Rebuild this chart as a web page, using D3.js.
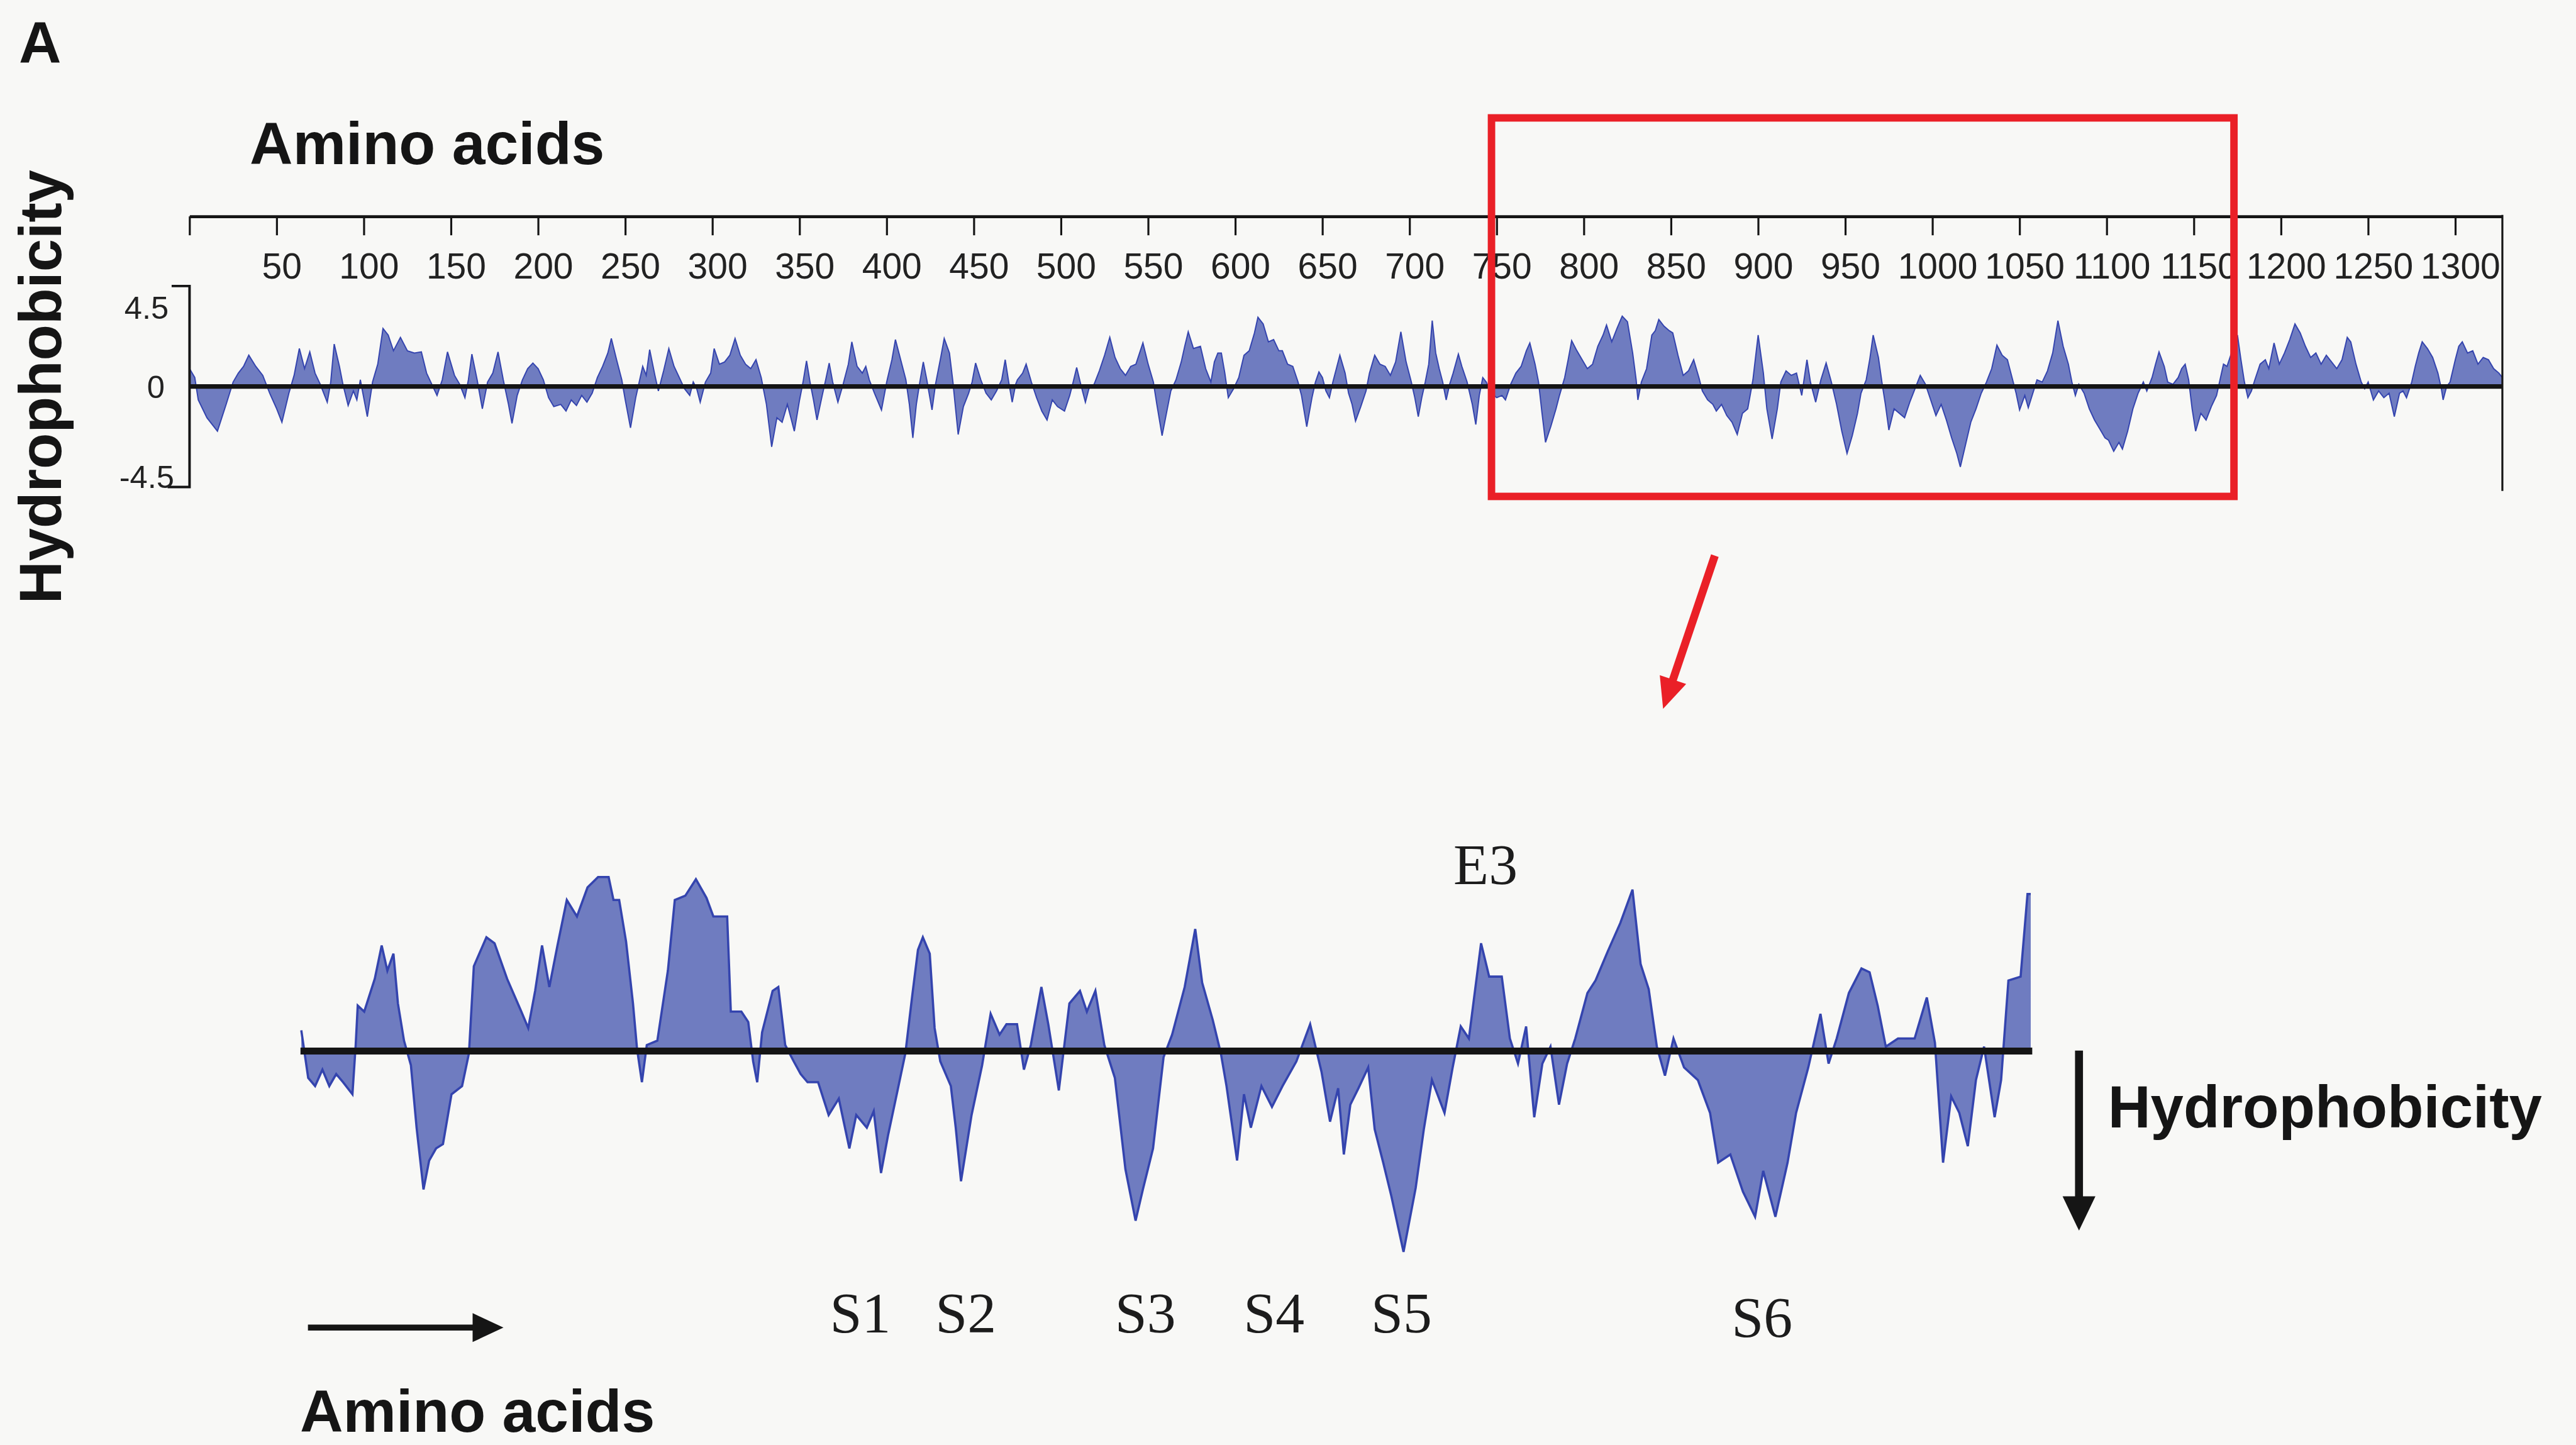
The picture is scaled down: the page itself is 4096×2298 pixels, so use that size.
<!DOCTYPE html>
<html>
<head>
<meta charset="utf-8">
<script src="https://cdn.jsdelivr.net/npm/d3@7"></script>
<style>
  html, body { margin: 0; padding: 0; background: #f8f8f6; }
  svg { display: block; }
  .sans { font-family: "Liberation Sans", Arial, Helvetica, sans-serif; }
  .serif { font-family: "Liberation Serif", "Times New Roman", serif; }
</style>
</head>
<body>
<svg id="fig"></svg>
<script>
// hydropathy profile of the whole protein, [residue, score]
const fullProfile = [
  [0,0.8],[3,0.4],[5,-0.6],[10,-1.4],[16,-2.0],[21,-0.8],[25,0.2],[28,0.6],[31,0.9],[34,1.4],[38,0.9],[42,0.5],
  [46,-0.3],[50,-1.0],[53,-1.6],[57,-0.3],[60,0.5],[63,1.7],[66,0.8],[69,1.55],[72,0.6],[75,0.1],[79,-0.7],[81,0.2],
  [83,1.9],[86,0.9],[88,0.1],[91,-0.85],[94,-0.2],[96,-0.6],[98,0.3],[102,-1.35],[105,0.2],[108,1.0],[111,2.6],[114,2.3],
  [117,1.6],[121,2.2],[125,1.6],[129,1.5],[133,1.55],[136,0.6],[139,0.1],[142,-0.4],[145,0.3],[148,1.55],[152,0.5],[155,0.1],
  [158,-0.5],[160,0.3],[162,1.45],[165,0.3],[168,-1.0],[171,0.2],[174,0.6],[177,1.55],[180,0.3],[183,-0.8],[185,-1.65],[188,-0.4],
  [191,0.3],[194,0.8],[197,1.05],[200,0.8],[203,0.3],[206,-0.5],[209,-0.9],[213,-0.8],[216,-1.1],[219,-0.6],[222,-0.85],[225,-0.4],
  [228,-0.7],[231,-0.3],[234,0.4],[237,0.9],[240,1.5],[242,2.15],[245,1.2],[248,0.3],[250,-0.6],[253,-1.85],[256,-0.5],[258,0.2],
  [260,0.9],[262,0.5],[264,1.65],[267,0.5],[269,-0.2],[272,0.7],[275,1.7],[278,0.9],[281,0.4],[284,-0.1],[287,-0.4],[289,0.2],
  [291,-0.1],[293,-0.7],[296,0.2],[299,0.6],[301,1.7],[304,1.0],[307,1.1],[310,1.4],[313,2.15],[316,1.4],[319,1.0],[322,0.8],
  [325,1.2],[328,0.4],[331,-0.8],[334,-2.7],[337,-1.4],[340,-1.6],[343,-0.8],[345,-1.4],[347,-2.0],[350,-0.6],[352,0.2],[354,1.15],
  [356,0.2],[358,-0.6],[360,-1.5],[363,-0.4],[365,0.3],[367,1.05],[369,0.2],[372,-0.7],[375,0.1],[378,1.0],[380,2.0],[383,0.9],
  [386,0.6],[388,0.9],[390,0.3],[393,-0.3],[397,-1.05],[400,0.2],[403,1.2],[405,2.1],[408,1.2],[411,0.3],[413,-0.8],[415,-2.3],
  [417,-0.8],[419,0.2],[421,1.1],[423,0.3],[426,-1.05],[428,0.1],[431,1.3],[433,2.15],[436,1.5],[438,0.2],[441,-2.15],[444,-0.9],
  [447,-0.3],[449,0.2],[451,1.05],[454,0.3],[457,-0.3],[460,-0.6],[463,-0.2],[466,0.3],[468,1.2],[470,0.2],[472,-0.7],[474,0.1],
  [475,0.3],[478,0.6],[480,1.0],[483,0.2],[486,-0.5],[489,-1.1],[492,-1.5],[495,-0.6],[498,-0.9],[502,-1.1],[505,-0.4],[507,0.2],
  [509,0.85],[511,0.2],[514,-0.7],[516,-0.1],[519,0.1],[522,0.7],[525,1.4],[528,2.2],[531,1.3],[534,0.8],[537,0.5],[540,0.9],
  [543,1.0],[547,1.95],[550,1.0],[553,0.2],[555,-0.8],[558,-2.2],[561,-1.0],[563,-0.2],[566,0.3],[569,1.1],[571,1.8],[573,2.45],
  [576,1.7],[580,1.8],[583,0.8],[586,0.2],[588,1.1],[590,1.5],[592,1.5],[594,0.6],[596,-0.5],[599,-0.1],[602,0.4],[605,1.4],
  [608,1.6],[611,2.4],[613,3.1],[616,2.8],[619,2.0],[622,2.1],[625,1.6],[627,1.6],[630,1.0],[633,0.9],[636,0.2],[638,-0.4],
  [641,-1.8],[644,-0.5],[646,0.2],[648,0.65],[650,0.4],[652,-0.2],[654,-0.5],[656,0.2],[658,0.8],[660,1.4],[663,0.6],[665,-0.3],
  [667,-0.8],[669,-1.55],[672,-0.9],[675,-0.2],[677,0.6],[680,1.4],[683,1.0],[686,0.9],[689,0.5],[692,1.1],[695,2.45],[698,1.1],
  [701,0.2],[703,-0.5],[705,-1.35],[707,-0.5],[709,0.2],[711,1.0],[713,2.95],[715,1.5],[717,0.8],[719,0.2],[721,-0.6],[723,0.1],
  [725,0.6],[728,1.45],[730,0.9],[733,0.2],[736,-0.8],[738,-1.7],[740,-0.4],[742,0.4],[744,0.2],[747,-0.3],[750,-0.5],[753,-0.4],
  [755,-0.6],[758,0.1],[761,0.6],[764,0.9],[767,1.6],[769,1.95],[772,1.0],[774,0.2],[776,-1.2],[778,-2.5],[781,-1.8],[784,-1.0],
  [786,-0.4],[789,0.4],[791,1.2],[793,2.05],[796,1.6],[799,1.2],[802,0.8],[805,1.0],[808,1.8],[811,2.3],[813,2.75],[816,2.0],
  [819,2.6],[822,3.15],[825,2.9],[828,1.5],[830,0.3],[831,-0.6],[833,0.2],[836,0.8],[839,2.3],[841,2.5],[843,3.0],[846,2.7],
  [849,2.5],[851,2.4],[854,1.4],[857,0.5],[860,0.7],[863,1.2],[866,0.4],[868,-0.2],[871,-0.6],[874,-0.8],[876,-1.1],[879,-0.8],
  [882,-1.3],[885,-1.6],[888,-2.15],[891,-1.2],[894,-1.0],[897,0.3],[900,2.3],[903,0.6],[905,-1.0],[908,-2.35],[911,-1.0],[913,0.2],
  [916,0.7],[919,0.5],[922,0.6],[925,-0.4],[928,1.2],[930,0.2],[933,-0.7],[936,0.3],[939,1.05],[942,0.2],[945,-0.8],[948,-2.0],
  [951,-3.0],[954,-2.2],[957,-1.2],[959,-0.3],[962,0.3],[964,1.2],[966,2.3],[969,1.3],[971,0.2],[973,-0.8],[975,-1.95],[978,-1.0],
  [981,-1.2],[984,-1.4],[987,-0.7],[990,-0.1],[993,0.5],[996,0.1],[999,-0.6],[1002,-1.3],[1005,-0.8],[1008,-1.5],[1011,-2.3],[1014,-3.0],
  [1016,-3.6],[1019,-2.6],[1022,-1.6],[1025,-1.0],[1028,-0.3],[1031,0.2],[1034,0.8],[1037,1.85],[1040,1.4],[1043,1.2],[1046,0.3],[1048,-0.3],
  [1050,-1.05],[1053,-0.4],[1055,-0.95],[1058,-0.2],[1060,0.3],[1063,0.2],[1066,0.7],[1069,1.5],[1072,2.95],[1075,1.8],[1078,1.0],[1080,0.2],
  [1082,-0.4],[1084,0.1],[1087,-0.3],[1090,-1.0],[1093,-1.5],[1096,-1.9],[1099,-2.3],[1101,-2.4],[1104,-2.9],[1107,-2.5],[1109,-2.8],[1112,-2.0],
  [1115,-1.0],[1118,-0.3],[1121,0.2],[1123,-0.2],[1126,0.4],[1128,1.0],[1130,1.55],[1133,0.9],[1135,0.2],[1138,0.1],[1141,0.4],[1143,0.8],
  [1145,1.0],[1147,0.3],[1149,-1.0],[1151,-2.0],[1154,-1.2],[1157,-1.5],[1160,-0.9],[1163,-0.4],[1165,0.3],[1167,1.0],[1169,0.9],[1172,1.6],
  [1175,2.3],[1177,1.2],[1179,0.2],[1181,-0.5],[1183,-0.2],[1185,0.3],[1188,1.0],[1191,1.2],[1193,0.8],[1196,1.95],[1199,1.0],[1202,1.5],
  [1205,2.1],[1208,2.8],[1211,2.4],[1214,1.8],[1217,1.3],[1220,1.5],[1223,1.0],[1226,1.4],[1229,1.1],[1232,0.8],[1235,1.2],[1238,2.2],
  [1240,2.0],[1243,1.0],[1246,0.2],[1248,-0.1],[1250,0.2],[1253,-0.6],[1256,-0.2],[1259,-0.5],[1262,-0.3],[1265,-1.35],[1268,-0.3],[1270,-0.2],
  [1272,-0.5],[1275,0.2],[1277,0.9],[1279,1.5],[1281,2.0],[1284,1.7],[1287,1.3],[1290,0.6],[1292,-0.1],[1293,-0.6],[1295,0.0],[1297,0.2],
  [1300,1.2],[1302,1.8],[1304,2.0],[1307,1.5],[1310,1.6],[1313,1.0],[1316,1.3],[1319,1.2],[1322,0.8],[1325,0.6],[1327,0.4]
];

// enlarged profile of the boxed region, [residue, score]
const zoomProfile = [
  [747.2,0.38],[748.9,-0.49],[750.6,-0.64],[752.4,-0.34],[754.1,-0.64],[755.8,-0.42],[757.5,-0.57],[759.8,-0.79],
  [760.6,0.11],[761.1,0.83],[762.7,0.72],[765.3,1.32],[767,1.93],[768.4,1.47],[769.9,1.78],[771,0.87],[772.5,0.19],
  [774.2,-0.26],[775.6,-1.4],[777.3,-2.53],[778.7,-2.0],[780.4,-1.78],[782.1,-1.7],[784.2,-0.79],[786.8,-0.64],[788.5,-0.04],
  [789.7,1.55],[792.8,2.08],[794.8,1.97],[797.9,1.32],[801.4,0.72],[803.1,0.42],[804.8,1.1],[806.5,1.93],[808.3,1.17],
  [810.3,1.93],[812.6,2.76],[815.1,2.46],[817.7,2.99],[820.3,3.18],[822.9,3.18],[824.1,2.76],[825.5,2.76],[827.2,2.0],
  [828.9,0.87],[829.9,0.04],[831.1,-0.57],[832.3,0.11],[834.9,0.19],[837.5,1.47],[839.2,2.76],[841.8,2.84],[844.4,3.14],
  [847,2.8],[848.7,2.46],[852.1,2.46],[853,0.72],[855.6,0.72],[857.3,0.53],[858.5,-0.19],[859.5,-0.57],[860.7,0.34],
  [863.3,1.1],[864.7,1.17],[866.4,0.11],[868.5,-0.19],[870.2,-0.42],[871.9,-0.57],[874.5,-0.57],[877.1,-1.17],[879.6,-0.87],
  [882.2,-1.78],[883.9,-1.17],[886.5,-1.4],[888.2,-1.1],[890,-2.23],[891.7,-1.55],[894.3,-0.64],[896,-0.04],[897.7,1.02],
  [899.1,1.85],[900.3,2.08],[902,1.78],[903.2,0.42],[904.6,-0.19],[907.2,-0.64],[908.4,-1.4],[909.7,-2.38],[912.3,-1.17],
  [914.9,-0.26],[917,0.68],[919.2,0.3],[920.9,0.49],[923.5,0.49],[925.2,-0.34],[926.9,0.11],[929.5,1.17],[931.2,0.49],
  [933.8,-0.72],[936.4,0.87],[939,1.1],[940.7,0.72],[942.8,1.1],[945,0.11],[947.6,-0.49],[950.2,-2.16],[952.7,-3.1],
  [954.5,-2.53],[957,-1.78],[959.6,-0.11],[961.7,0.3],[964.8,1.17],[967.4,2.23],[969.1,1.25],[971.7,0.57],[973.7,-0.04],
  [975.1,-0.64],[977.7,-2.0],[979.4,-0.79],[981.1,-1.4],[983.7,-0.64],[986.3,-1.02],[988.9,-0.64],[992.3,-0.19],[995.7,0.49],
  [998.5,-0.38],[1000.6,-1.29],[1002.6,-0.68],[1004,-1.89],[1005.6,-0.98],[1007.6,-0.68],[1010,-0.3],[1011.6,-1.43],[1013.7,-2.04],
  [1015.7,-2.65],[1018.7,-3.67],[1021.7,-2.5],[1023.7,-1.43],[1025.7,-0.53],[1028.8,-1.13],[1030.8,-0.3],[1032.8,0.45],[1034.8,0.23],
  [1037.8,1.97],[1039.8,1.36],[1042.9,1.36],[1044.9,0.23],[1046.9,-0.23],[1048.9,0.45],[1050.9,-1.21],[1052.9,-0.23],[1054.9,0.08],
  [1057,-0.98],[1059,-0.23],[1061,0.23],[1064,1.06],[1066,1.29],[1069,1.82],[1072.1,2.34],[1075.1,2.95],[1077.1,1.59],
  [1079.1,1.13],[1081.1,0.08],[1083.1,-0.45],[1085.2,0.23],[1087.8,-0.3],[1091.2,-0.53],[1094.2,-1.13],[1096.2,-2.04],[1099.2,-1.89],
  [1102.3,-2.57],[1105.3,-3.03],[1107.3,-2.19],[1110.3,-3.03],[1113.3,-2.04],[1115.4,-1.13],[1118.4,-0.3],[1121.4,0.68],[1123.4,-0.23],
  [1125.4,0.23],[1128.4,1.06],[1131.5,1.51],[1133.5,1.44],[1135.5,0.83],[1137.5,0.08],[1140.5,0.23],[1144.6,0.23],[1147.6,0.98],
  [1149.6,0.15],[1151.6,-2.04],[1153.6,-0.83],[1155.6,-1.13],[1157.7,-1.74],[1159.7,-0.53],[1161.7,0.08],[1164.3,-1.21],[1165.9,-0.53],
  [1167.7,1.29],[1170.7,1.36],[1172.4,2.87],[1173.2,2.87]
];

const residueTicks = d3.range(50, 1301, 50);
const scoreTicks = [4.5, 0, -4.5];
const boxRange = [747, 1173];
const segments = [
  {name: "S1", at: 884.9, row: 0}, {name: "S2", at: 910.9, row: 0},
  {name: "S3", at: 955.1, row: 0}, {name: "S4", at: 986.8, row: 0},
  {name: "S5", at: 1018.2, row: 0}, {name: "S6", at: 1107, row: 1},
  {name: "E3", at: 1038.9, row: 2}
];

const W = 5178, H = 2905;
const svg = d3.select("#fig")
    .attr("width", 4096).attr("height", 2298)
    .attr("viewBox", "0 0 " + W + " " + H);

svg.append("rect").attr("width", W).attr("height", H).attr("fill", "#f8f8f6");

const fillBlue = "#6f7cc0", edgeBlue = "#3444ae", ink = "#151515";

// ---------- top overview ----------
let x = d3.scaleLinear().domain([0, 1327]).range([381, 5030]);
let y = d3.scaleLinear().domain([-4.5, 4.5]).range([979, 575]);

svg.append("path")
    .datum(fullProfile)
    .attr("d", d3.area().x(d => x(d[0])).y0(y(0)).y1(d => y(d[1])))
    .attr("fill", fillBlue);
svg.append("path")
    .datum(fullProfile)
    .attr("d", d3.line().x(d => x(d[0])).y(d => y(d[1])))
    .attr("fill", "none").attr("stroke", edgeBlue).attr("stroke-width", 2.5);

svg.append("line")
    .attr("x1", x(0)).attr("x2", x(1327)).attr("y1", y(0)).attr("y2", y(0))
    .attr("stroke", ink).attr("stroke-width", 9);

// residue axis above the plot
let topAxis = svg.append("g")
    .attr("transform", "translate(0,435)")
    .call(d3.axisBottom(x).tickValues([0].concat(residueTicks)).tickSize(38).tickSizeOuter(0).tickPadding(36)
        .tickFormat(d => d === 0 ? "" : d));
topAxis.select(".domain").attr("stroke", ink).attr("stroke-width", 6);
topAxis.selectAll(".tick line").attr("stroke", ink).attr("stroke-width", 4);
topAxis.selectAll(".tick text")
    .attr("class", "sans").attr("font-size", 72).attr("fill", "#222").attr("dx", 10);

svg.append("line")
    .attr("x1", x(1327)).attr("x2", x(1327)).attr("y1", 432).attr("y2", 987)
    .attr("stroke", ink).attr("stroke-width", 4);

// score bracket on the left
svg.append("path")
    .attr("d", "M345," + y(4.5) + "H" + x(0) + "V" + y(-4.5) + "H337")
    .attr("fill", "none").attr("stroke", ink).attr("stroke-width", 5);
svg.selectAll(".score")
    .data(scoreTicks)
    .enter().append("text")
    .attr("class", "sans score")
    .attr("x", d => d === 0 ? 331 : (d > 0 ? 339 : 350))
    .attr("y", d => d === 0 ? y(0) + 23 : (d > 0 ? y(d) + 66 : y(d) + 2))
    .attr("text-anchor", "end")
    .attr("font-size", 64).attr("fill", "#222")
    .text(d => d);

// red box marking the enlarged region
svg.append("rect")
    .attr("x", x(boxRange[0])).attr("y", 237)
    .attr("width", x(boxRange[1]) - x(boxRange[0])).attr("height", 761)
    .attr("fill", "none").attr("stroke", "#ea2027").attr("stroke-width", 15);

// red pointer arrow
let a0 = [3447, 1117], a1 = [3343, 1425];
let len = Math.hypot(a1[0] - a0[0], a1[1] - a0[1]);
let ux = (a1[0] - a0[0]) / len, uy = (a1[1] - a0[1]) / len;
let bx = a1[0] - ux * 62, by = a1[1] - uy * 62;
svg.append("line")
    .attr("x1", a0[0]).attr("y1", a0[1]).attr("x2", bx + ux * 5).attr("y2", by + uy * 5)
    .attr("stroke", "#ea2027").attr("stroke-width", 16);
svg.append("path")
    .attr("d", "M" + a1[0] + "," + a1[1] + "L" + (bx - uy * 28) + "," + (by + ux * 28) + "L" + (bx + uy * 28) + "," + (by - ux * 28) + "Z")
    .attr("fill", "#ea2027");

svg.append("text").attr("class", "sans").attr("x", 38).attr("y", 125)
    .attr("font-size", 118).attr("font-weight", "bold").attr("fill", ink).text("A");
svg.append("text").attr("class", "sans").attr("x", 502).attr("y", 330)
    .attr("font-size", 120).attr("font-weight", "bold").attr("fill", ink).text("Amino acids");
svg.append("text").attr("class", "sans")
    .attr("transform", "translate(123,1214) rotate(-90)")
    .attr("font-size", 119).attr("font-weight", "bold").attr("fill", ink).text("Hydrophobicity");

// ---------- enlarged region ----------
let xz = d3.scaleLinear().domain([747, 1173.2]).range([604, 4082]);
let yz = d3.scaleLinear().domain([-1, 1]).range([2223, 2003]);

let zoomData = [[747.2, 0]].concat(zoomProfile, [[1173.2, 0]]);
svg.append("path")
    .datum(zoomData)
    .attr("d", d3.area().x(d => xz(d[0])).y0(yz(0)).y1(d => yz(d[1])))
    .attr("fill", fillBlue);
svg.append("path")
    .datum(zoomProfile)
    .attr("d", d3.line().x(d => xz(d[0])).y(d => yz(d[1])))
    .attr("fill", "none").attr("stroke", edgeBlue).attr("stroke-width", 4.5);

svg.append("line")
    .attr("x1", 604).attr("x2", 4085).attr("y1", yz(0)).attr("y2", yz(0))
    .attr("stroke", ink).attr("stroke-width", 14);

const rowY = [2679, 2688, 1777];
svg.selectAll(".seg")
    .data(segments)
    .enter().append("text")
    .attr("class", "serif seg")
    .attr("x", d => xz(d.at)).attr("y", d => rowY[d.row])
    .attr("text-anchor", "middle")
    .attr("font-size", 116).attr("fill", "#1c1c1c")
    .text(d => d.name);

// residue direction arrow
svg.append("line").attr("x1", 619).attr("x2", 960).attr("y1", 2669).attr("y2", 2669)
    .attr("stroke", ink).attr("stroke-width", 12);
svg.append("path").attr("d", "M1012,2669L950,2640L950,2698Z").attr("fill", ink);
svg.append("text").attr("class", "sans").attr("x", 603).attr("y", 2878)
    .attr("font-size", 120).attr("font-weight", "bold").attr("fill", ink).text("Amino acids");

// hydrophobicity direction arrow
svg.append("line").attr("x1", 4179).attr("x2", 4179).attr("y1", 2112).attr("y2", 2412)
    .attr("stroke", ink).attr("stroke-width", 16);
svg.append("path").attr("d", "M4179,2474L4146,2405L4212,2405Z").attr("fill", ink);
svg.append("text").attr("class", "sans").attr("x", 4237).attr("y", 2267)
    .attr("font-size", 119).attr("font-weight", "bold").attr("fill", ink).text("Hydrophobicity");
</script>
</body>
</html>
